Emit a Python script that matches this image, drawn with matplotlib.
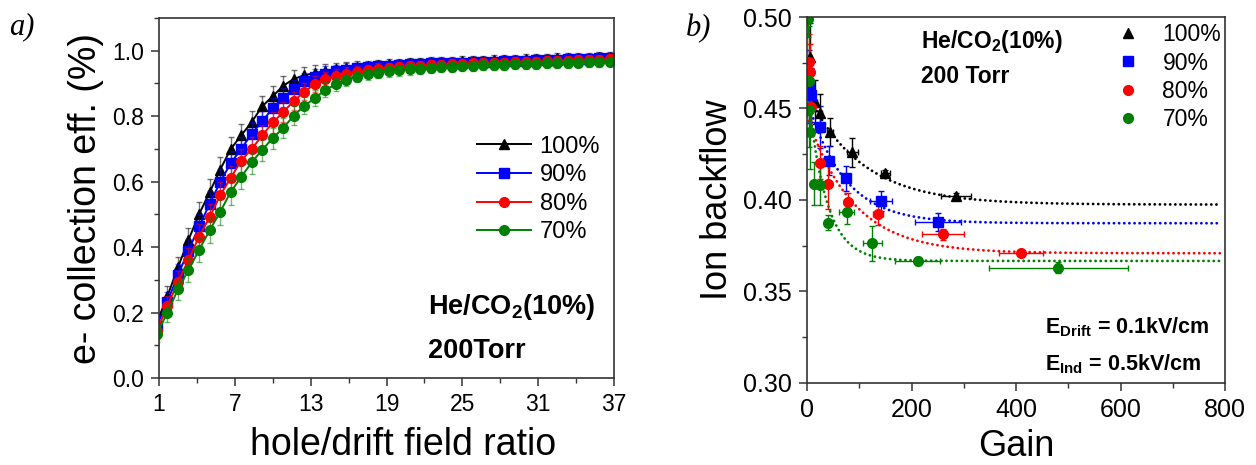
import numpy as np
import matplotlib
matplotlib.use('Agg')
import matplotlib.pyplot as plt
from matplotlib.ticker import MultipleLocator, FixedLocator

plt.rcParams['font.family'] = ['Liberation Sans', 'DejaVu Sans']
plt.rcParams['mathtext.fontset'] = 'custom'
plt.rcParams['mathtext.rm'] = 'Liberation Sans'
plt.rcParams['mathtext.bf'] = 'Liberation Sans:bold'

# ---- panel a): collection efficiency vs hole/drift field ratio ----
ratio = np.arange(1, 45) * 5 / 6
ratio_ticks = [1, 7, 13, 19, 25, 31, 37]
eff_100 = [0.17, 0.25, 0.338, 0.422, 0.50, 0.567, 0.636, 0.699, 0.741, 0.782, 0.830,
           0.861, 0.893, 0.914, 0.925, 0.932, 0.938, 0.943, 0.947, 0.950, 0.953, 0.956,
           0.958, 0.960, 0.962, 0.963, 0.965, 0.966, 0.967, 0.968, 0.969, 0.970, 0.971,
           0.972, 0.973, 0.974, 0.975, 0.976, 0.977, 0.977, 0.978, 0.979, 0.980, 0.981]
eff_90 = [0.16, 0.233, 0.315, 0.389, 0.463, 0.531, 0.598, 0.656, 0.700, 0.746, 0.784,
          0.825, 0.857, 0.883, 0.906, 0.921, 0.930, 0.937, 0.942, 0.946, 0.949, 0.952,
          0.954, 0.956, 0.958, 0.960, 0.961, 0.962, 0.963, 0.964, 0.965, 0.966, 0.967,
          0.968, 0.969, 0.970, 0.971, 0.972, 0.973, 0.974, 0.975, 0.976, 0.977, 0.978]
eff_80 = [0.145, 0.220, 0.293, 0.361, 0.432, 0.491, 0.558, 0.611, 0.664, 0.700, 0.741,
          0.781, 0.812, 0.847, 0.874, 0.899, 0.913, 0.923, 0.930, 0.936, 0.940, 0.944,
          0.947, 0.950, 0.952, 0.954, 0.956, 0.957, 0.959, 0.960, 0.961, 0.962, 0.963,
          0.964, 0.965, 0.966, 0.967, 0.968, 0.969, 0.970, 0.971, 0.972, 0.973, 0.974]
eff_70 = [0.135, 0.200, 0.271, 0.330, 0.391, 0.451, 0.507, 0.568, 0.614, 0.659, 0.697,
          0.733, 0.764, 0.802, 0.832, 0.855, 0.881, 0.897, 0.912, 0.921, 0.928, 0.933,
          0.937, 0.940, 0.943, 0.945, 0.947, 0.949, 0.951, 0.952, 0.954, 0.955, 0.956,
          0.957, 0.958, 0.959, 0.960, 0.961, 0.962, 0.963, 0.964, 0.965, 0.966, 0.967]
eff_err = [0.025, 0.03, 0.033, 0.036, 0.038, 0.04, 0.04, 0.038, 0.036, 0.035, 0.033,
           0.032, 0.03, 0.028, 0.026, 0.024, 0.022, 0.02, 0.019, 0.018, 0.017, 0.017,
           0.016, 0.016, 0.016, 0.015, 0.015, 0.015, 0.015, 0.015, 0.015, 0.015, 0.015,
           0.015, 0.015, 0.015, 0.015, 0.015, 0.015, 0.015, 0.015, 0.015, 0.015, 0.015]

# ---- panel b): ion backflow vs gain ----
gain_100 = [5.7, 15.3, 25, 44, 87, 150, 285]
ibf_100 = [0.478, 0.4537, 0.4474, 0.4373, 0.426, 0.4146, 0.4022]
ibf_100_err = [0.0185, 0.012, 0.0105, 0.0077, 0.0077, 0.002, 0.0015]
gain_100_err = [1.5, 3, 4, 6, 10, 8, 28]

gain_90 = [3, 7.7, 25, 43, 75, 142, 251]
ibf_90 = [0.462, 0.4574, 0.44, 0.4215, 0.4118, 0.3995, 0.3878]
ibf_90_err = [0.02, 0.015, 0.0114, 0.0078, 0.007, 0.0056, 0.005]
gain_90_err = [1, 2, 3, 5, 4, 21, 44]

gain_80 = [3.5, 5, 8, 25, 41, 79, 136, 260, 409]
ibf_80 = [0.4756, 0.47, 0.451, 0.4204, 0.4087, 0.3987, 0.3925, 0.3813, 0.3708]
ibf_80_err = [0.015, 0.015, 0.015, 0.009, 0.0135, 0.005, 0.006, 0.003, 0.001]
gain_80_err = [1, 1, 2, 3, 4, 8, 10, 40, 42]

gain_70 = [2.5, 3, 4, 6, 14, 25, 41, 76, 125, 212, 481]
ibf_70 = [0.499, 0.465, 0.449, 0.437, 0.409, 0.408, 0.3876, 0.3933, 0.3763, 0.3667, 0.363]
ibf_70_err = [0.01, 0.03, 0.02, 0.02, 0.012, 0.0105, 0.004, 0.0065, 0.0095, 0.002, 0.003]
gain_70_err = [0.5, 1, 1, 1, 3, 4, 4, 14, 18, 43, 133]

# exponential decay fits: (plateau, amplitude, decay length)
fit_100 = (0.3975, 0.061, 104)
fit_90 = (0.3873, 0.068, 70)
fit_80 = (0.3709, 0.075, 88)
fit_70 = (0.3667, 0.096, 35)

labels = ['100%', '90%', '80%', '70%']
colors = ['black', '#0000ff', '#ff0000', '#008000']
markers = ['^', 's', 'o', 'o']


def style_axes(ax, size):
    for s in ax.spines.values():
        s.set_color('#333333')
        s.set_linewidth(1.2)
    ax.tick_params(which='major', direction='out', length=6, width=1.1,
                   labelsize=size, color='#333333', pad=5)
    ax.tick_params(which='minor', direction='out', length=3.5, width=1.0,
                   color='#333333')


fig = plt.figure(figsize=(12.56, 4.65), dpi=100)

# panel a
ax1 = fig.add_axes([159 / 1256, 1 - 378 / 465, 455 / 1256, 360 / 465])
for y, lab, c, m in zip([eff_100, eff_90, eff_80, eff_70], labels, colors, markers):
    ax1.errorbar(ratio, y, yerr=eff_err, fmt='none', ecolor=c, alpha=0.55,
                 elinewidth=1.0, capsize=2.5, capthick=1.0)
    ax1.plot(ratio, y, color=c, marker=m, markersize=7, lw=1.4, label=lab)
ax1.set_xlim(1, 37)
ax1.set_ylim(0, 1.1)
ax1.xaxis.set_major_locator(FixedLocator(ratio_ticks))
ax1.xaxis.set_minor_locator(FixedLocator([t + 3 for t in ratio_ticks[:-1]]))
ax1.set_yticks([0, 0.2, 0.4, 0.6, 0.8, 1.0])
ax1.yaxis.set_minor_locator(MultipleLocator(0.1))
ax1.yaxis.set_major_formatter(plt.FormatStrFormatter('%.1f'))
style_axes(ax1, 16.5)
ax1.set_xlabel('hole/drift field ratio', fontsize=27, labelpad=8, x=0.536)
ax1.set_ylabel('e- collection eff. (%)', fontsize=27, labelpad=6)
ax1.legend(loc='center left', bbox_to_anchor=(0.699, 0.5236), frameon=False,
           fontsize=17, handlelength=2.3, handletextpad=0.35, labelspacing=0.28,
           borderpad=0, borderaxespad=0)
ax1.text(0.591, 0.178, r'He/CO$_\mathbf{2}$(10%)', transform=ax1.transAxes,
         fontsize=19.5, fontweight='bold', va='baseline')
ax1.text(0.591, 0.0556, '200Torr', transform=ax1.transAxes,
         fontsize=19.5, fontweight='bold', va='baseline')

# panel b
ax2 = fig.add_axes([807 / 1256, 1 - 383 / 465, 418 / 1256, 366 / 465])
gx = np.linspace(0, 790, 400)
series = [(gain_100, ibf_100, gain_100_err, ibf_100_err, fit_100),
          (gain_90, ibf_90, gain_90_err, ibf_90_err, fit_90),
          (gain_80, ibf_80, gain_80_err, ibf_80_err, fit_80),
          (gain_70, ibf_70, gain_70_err, ibf_70_err, fit_70)]
for (gx_d, gy_d, ex, ey, fit), lab, c, m in zip(series, labels, colors, markers):
    y0, amp, tau = fit
    ax2.plot(gx, y0 + amp * np.exp(-gx / tau), color=c, lw=2.0,
             linestyle=(0, (0.05, 1.8)), dash_capstyle='round')
    ax2.errorbar(gx_d, gy_d, xerr=ex, yerr=ey, fmt=m, color=c, ecolor=c,
                 markersize=7, elinewidth=1.0, capsize=2.5, capthick=1.0,
                 label=lab)
ax2.set_xlim(0, 800)
ax2.set_ylim(0.30, 0.50)
ax2.xaxis.set_major_locator(MultipleLocator(200))
ax2.xaxis.set_minor_locator(MultipleLocator(100))
ax2.yaxis.set_major_locator(MultipleLocator(0.05))
ax2.yaxis.set_minor_locator(MultipleLocator(0.025))
ax2.yaxis.set_major_formatter(plt.FormatStrFormatter('%.2f'))
style_axes(ax2, 18)
ax2.set_xlabel('Gain', fontsize=26, labelpad=5)
ax2.set_ylabel('Ion backflow', fontsize=26, labelpad=6)
h, l = ax2.get_legend_handles_labels()
h = [hh[0] for hh in h]
ax2.legend(h, l, loc='center left', bbox_to_anchor=(0.727, 0.836), frameon=False,
           fontsize=16.5, handlelength=1.5, handletextpad=0.75, labelspacing=0.22,
           borderpad=0, borderaxespad=0)
ax2.text(0.273, 0.9145, r'He/CO$_\mathbf{2}$(10%)', transform=ax2.transAxes,
         fontsize=16.5, fontweight='bold', va='baseline')
ax2.text(0.273, 0.819, '200 Torr', transform=ax2.transAxes,
         fontsize=16.5, fontweight='bold', va='baseline')
ax2.text(0.569, 0.1358, r'E$_\mathbf{Drift}$ = 0.1kV/cm', transform=ax2.transAxes,
         fontsize=15.5, fontweight='bold', va='baseline')
ax2.text(0.569, 0.0355, r'E$_\mathbf{Ind}$ = 0.5kV/cm', transform=ax2.transAxes,
         fontsize=15.5, fontweight='bold', va='baseline')

fig.text(9 / 1256, 1 - 34 / 465, 'a)', fontsize=22, style='italic',
         family=['Liberation Serif', 'DejaVu Serif'], va='baseline')
fig.text(686 / 1256, 1 - 36 / 465, 'b)', fontsize=22, style='italic',
         family=['Liberation Serif', 'DejaVu Serif'], va='baseline')

fig.savefig('out.png', dpi=100)
